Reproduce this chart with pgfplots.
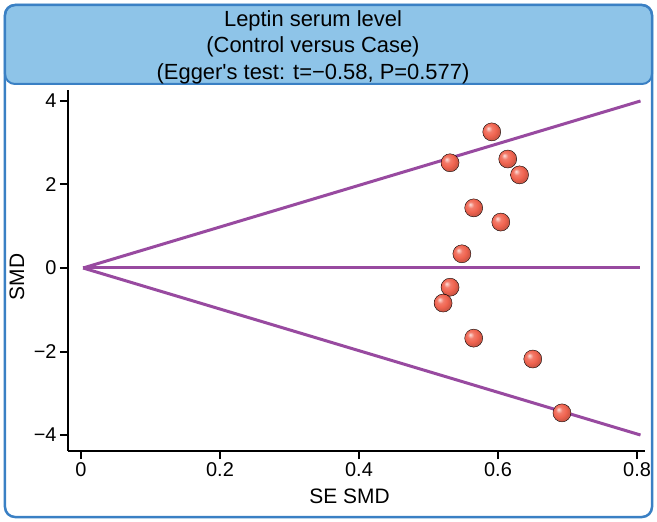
\documentclass[border=0pt]{standalone}
\usepackage{pgfplots}
\pgfplotsset{compat=1.18}
\usepackage{fontspec}
\setmainfont{Liberation Sans}[Ligatures=TeXReset]
\definecolor{frameblue}{RGB}{58,128,196}
\definecolor{titlefill}{RGB}{142,196,232}
\definecolor{funnel}{RGB}{152,74,160}
\definecolor{ballred}{RGB}{240,100,80}
\makeatletter
\pgfdeclareradialshading[tikz@ball]{ball}{\pgfqpoint{-10bp}{10bp}}{%
  color(0bp)=(tikz@ball!20!white);
  color(9bp)=(tikz@ball!85!white);
  color(18bp)=(tikz@ball);
  color(25bp)=(tikz@ball!88!black);
  color(50bp)=(tikz@ball!70!black)}
\makeatother
\begin{document}
\begin{tikzpicture}
\path (-68bp,-71bp) rectangle (589bp,451bp);
\fill[titlefill, rounded corners=10bp] (-63bp,367bp) rectangle (584bp,446bp);
\draw[frameblue, line width=2bp, rounded corners=10bp] (-63bp,367bp) rectangle (584bp,446bp);
\draw[frameblue, line width=2.5bp, rounded corners=10bp] (-63bp,-66bp) rectangle (584bp,446bp);
\node[font=\fontsize{22}{26}\selectfont, anchor=base] at (245bp,424bp) {Leptin serum level};
\node[font=\fontsize{22}{26}\selectfont, anchor=base] at (245bp,398bp) {(Control versus Case)};
\node[font=\fontsize{22}{26}\selectfont, anchor=base] at (245bp,371bp) {(Egger's test: t=−0.58, P=0.577)};
\begin{axis}[
  at={(0bp,0bp)}, anchor=south west,
  scale only axis, width=577bp, height=361bp,
  xmin=-0.0187, xmax=0.8115, ymin=-4.383, ymax=4.263,
  axis x line*=bottom, axis y line*=left,
  axis line style={line width=2bp, black},
  tick align=outside, major tick length=8bp,
  tick style={line width=2bp, black},
  xtick={0,0.2,0.4,0.6,0.8}, xticklabels={0,0.2,0.4,0.6,0.8},
  ytick={-4,-2,0,2,4}, yticklabels={−4,−2,0,2,4},
  tick label style={font=\fontsize{20}{24}\selectfont},
  /pgf/number format/assume math mode=true,
  xlabel={SE SMD}, ylabel={SMD},
  label style={font=\fontsize{21}{24}\selectfont},
  xlabel style={at={(axis description cs:0.488,-0.1468)}, anchor=base},
  ylabel style={at={(axis description cs:-0.0884,0.482)}, anchor=center, rotate=0},
  clip=false,
]
\addplot[funnel, line width=3bp] coordinates {(0.003,0) (0.805,4.0)};
\addplot[funnel, line width=3bp] coordinates {(0.003,0) (0.805,0)};
\addplot[funnel, line width=3bp] coordinates {(0.003,0) (0.805,-4.0)};
\addplot[only marks, mark=ball, mark size=9bp, mark options={ball color=ballred, draw=none}] table {
x y
0.591 3.26
0.531 2.52
0.614 2.61
0.631 2.23
0.565 1.44
0.604 1.10
0.548 0.34
0.531 -0.46
0.521 -0.84
0.565 -1.68
0.650 -2.18
0.692 -3.47
};
\end{axis}
\end{tikzpicture}
\end{document}
